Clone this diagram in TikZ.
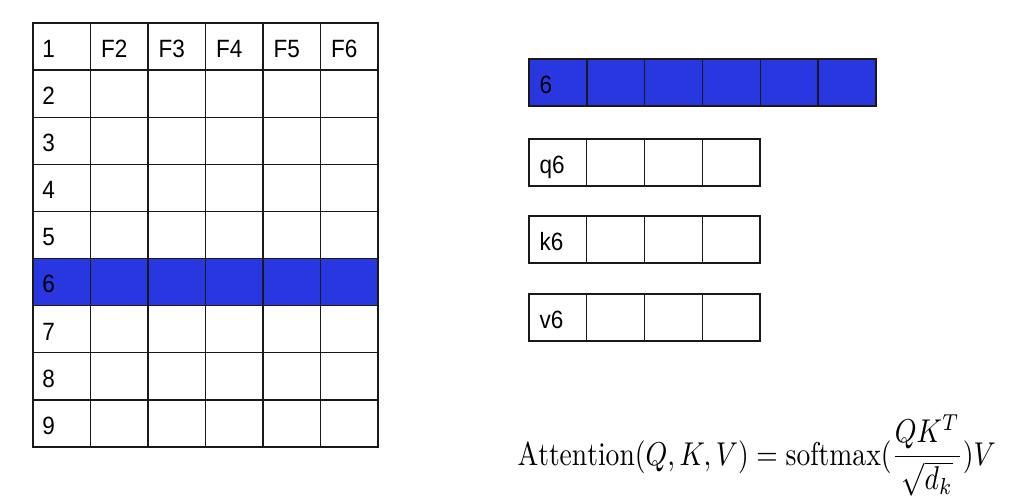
\documentclass[tikz,border=0pt]{standalone}
\usepackage{fontspec}
\newfontfamily\cellfont{Liberation Sans}
\usetikzlibrary{positioning}
\definecolor{rowblue}{RGB}{41,55,225}
\tikzset{
  cell/.style={draw=black!90, line width=0.7pt, inner sep=0pt, minimum width=28.75pt, minimum height=23.55pt},
  qcell/.style={cell, minimum width=28.9pt},
  hot/.style={fill=rowblue},
  celltxt/.style={anchor=base west, inner sep=0pt, xscale=0.9, font=\cellfont\fontsize{12.5}{14}\selectfont}
}
\begin{document}
\begin{tikzpicture}[x=0.5pt,y=-0.5pt]
  %%%%% FRAME %%%%%
  \useasboundingbox (0,0) rectangle (1020,502);

  %%%%% LEFT TABLE %%%%%
  \foreach \r in {1,...,9}{
    \foreach \c in {1,...,6}{
      \ifnum\r=6
        \node[cell, hot] (t-\r-\c) at ({33+(\c-0.5)*57.5}, {23+(\r-0.5)*47.11}) {};
      \else
        \node[cell] (t-\r-\c) at ({33+(\c-0.5)*57.5}, {23+(\r-0.5)*47.11}) {};
      \fi
    }
    \node[celltxt] (n-\r) at ([xshift=4.8pt, yshift=-5.4pt]t-\r-1.west) {\r};
  }
  \foreach \c in {2,...,6}
    \node[celltxt] (f-\c) at ([xshift=5.5pt, yshift=-5.4pt]t-1-\c.west) {F\c};

  %%%%% SELECTED ROW %%%%%
  \foreach \c in {1,...,6}
    \node[cell, hot, minimum width=28.92pt] (s-\c) at ({529+(\c-0.5)*57.83}, 82.5) {};
  \node[celltxt] (s-txt) at ([xshift=5.5pt, yshift=-5.4pt]s-1.west) {6};

  %%%%% Q K V %%%%%
  \foreach \v/\yy in {q/162.5, k/239.5, v/317.5}{
    \foreach \c in {1,...,4}
      \node[qcell] (\v-\c) at ({529+(\c-0.5)*57.75}, \yy) {};
    \node[celltxt] (\v-txt) at ([xshift=5.5pt, yshift=-5.4pt]\v-1.west) {\v6};
  }

  %%%%% FORMULA %%%%%
  \node[anchor=base west, inner sep=0pt, xscale=1.38, yscale=1.65] (attn) at (517,465)
    {$\mathrm{Attention}(Q,K,V)=\mathrm{softmax}(\displaystyle\frac{QK^T}{\sqrt{d_k}})V$};
\end{tikzpicture}
\end{document}
